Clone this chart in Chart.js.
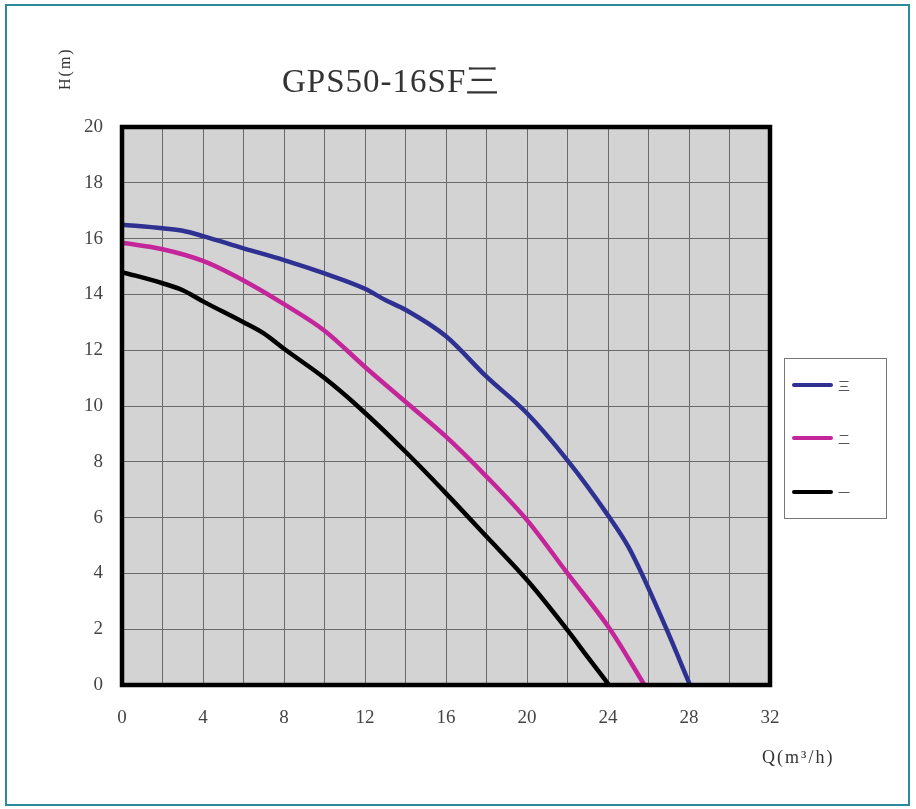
<!DOCTYPE html>
<html>
<head>
<meta charset="utf-8">
<script src="https://cdn.jsdelivr.net/npm/chart.js@4/dist/chart.umd.min.js"></script>
<style>
  html, body { margin: 0; padding: 0; background: #fff; }
  #wrap { width: 916px; height: 809px; }
</style>
</head>
<body>
<div id="wrap"><canvas id="pump_chart" width="916" height="809"></canvas></div>
<script>
// curve data: Q (m3/h), H (m)
const chartTitle = 'GPS50-16SF三';
const seriesNames = ['三', '二', '一'];
const seriesColors = ['#2e3192', '#c4259a', '#000000'];

const q3 = [0, 2, 3, 4, 6, 8, 10, 12, 13, 14, 16, 18, 20, 22, 24, 25, 25.66, 26.89, 28.05];
const h3 = [16.5, 16.37, 16.28, 16.09, 15.65, 15.23, 14.75, 14.2, 13.8, 13.45, 12.5, 11.05, 9.74, 8.05, 6.08, 4.96, 4.0, 2.0, 0];

const q2 = [0, 2, 4, 6, 8, 10, 12, 14, 16, 18, 20, 22, 24.1, 25.8];
const h2 = [15.85, 15.62, 15.2, 14.5, 13.65, 12.7, 11.4, 10.15, 8.9, 7.47, 5.91, 4.0, 2.0, 0];

const q1 = [0, 2, 3, 4, 6, 7, 8, 10, 11.75, 14, 16, 18, 20, 21.96, 23, 24.05];
const h1 = [14.8, 14.4, 14.15, 13.75, 13.0, 12.6, 12.05, 11.0, 9.92, 8.36, 6.87, 5.32, 3.76, 2.0, 1.0, 0];

const xMax = 32;
const yMax = 20;

const toPoints = (qs, hs) => qs.map((q, i) => ({x: q, y: hs[i]}));

const framePlugin = {
  id: 'frame',
  beforeDraw(chart) {
    const ctx = chart.ctx;
    const a = chart.chartArea;
    ctx.save();
    ctx.fillStyle = '#d3d3d3';
    ctx.fillRect(a.left, a.top, a.right - a.left, a.bottom - a.top);
    // teal outer frame
    ctx.strokeStyle = '#2b8a9b';
    ctx.lineWidth = 2;
    ctx.strokeRect(6, 5, 903, 800);
    ctx.restore();
  },
  afterDatasetsDraw(chart) {
    const ctx = chart.ctx;
    const a = chart.chartArea;
    ctx.save();
    ctx.strokeStyle = '#000';
    ctx.lineWidth = 4.5;
    ctx.strokeRect(a.left, a.top, a.right - a.left, a.bottom - a.top);

    // title
    ctx.fillStyle = '#333';
    ctx.font = '33px "Liberation Serif", serif';
    ctx.letterSpacing = '1px';
    ctx.textAlign = 'left';
    ctx.textBaseline = 'middle';
    ctx.fillText(chartTitle, 282, 83);

    // axis titles
    ctx.font = '18px "Liberation Serif", serif';
    ctx.letterSpacing = '2px';
    ctx.fillText('Q(m³/h)', 762, 758);
    ctx.font = '16px "Liberation Serif", serif';
    ctx.letterSpacing = '2px';
    ctx.save();
    ctx.translate(66, 90);
    ctx.rotate(-Math.PI / 2);
    ctx.fillText('H(m)', 0, 0);
    ctx.restore();
    ctx.letterSpacing = '0px';

    // legend box
    ctx.fillStyle = '#fff';
    ctx.fillRect(784, 358, 102, 160);
    ctx.strokeStyle = '#777';
    ctx.lineWidth = 1;
    ctx.strokeRect(784.5, 358.5, 102, 160);
    const rows = [385, 438, 492];
    chart.data.datasets.forEach((ds, i) => {
      ctx.strokeStyle = ds.borderColor;
      ctx.lineWidth = 4;
      ctx.lineCap = 'round';
      ctx.beginPath();
      ctx.moveTo(794, rows[i]);
      ctx.lineTo(831, rows[i]);
      ctx.stroke();
      ctx.fillStyle = '#555';
      ctx.font = '12px "Noto Sans CJK SC", sans-serif';
      ctx.textAlign = 'left';
      ctx.fillText(ds.label, 838, rows[i] + 1);
    });
    ctx.restore();
  }
};

const createPumpChart = () => {
  const ctx = document.getElementById('pump_chart').getContext('2d');
  const datasets = [toPoints(q3, h3), toPoints(q2, h2), toPoints(q1, h1)].map((pts, i) => ({
    label: seriesNames[i],
    data: pts,
    borderColor: seriesColors[i],
    borderWidth: 4.5,
    pointRadius: 0,
    cubicInterpolationMode: 'monotone',
    fill: false
  }));
  new Chart(ctx, {
    type: 'line',
    data: {datasets: datasets},
    options: {
      responsive: false,
      animation: false,
      layout: {padding: {left: 0, top: 127, right: 146, bottom: 0}},
      plugins: {legend: {display: false}, tooltip: {enabled: false}, title: {display: false}},
      scales: {
        x: {
          type: 'linear',
          min: 0, max: xMax,
          afterFit: (s) => { s.height = 124; },
          grid: {color: '#6a6a6a', lineWidth: 1, drawTicks: false},
          border: {display: false},
          ticks: {
            stepSize: 2,
            autoSkip: false,
            maxRotation: 0,
            padding: 22,
            color: '#444',
            font: {family: '"Liberation Serif", serif', size: 19},
            callback: (v) => (v % 4 === 0 ? String(v) : '')
          }
        },
        y: {
          type: 'linear',
          min: 0, max: yMax,
          afterFit: (s) => { s.width = 122; },
          grid: {color: '#6a6a6a', lineWidth: 1, drawTicks: false},
          border: {display: false},
          ticks: {
            stepSize: 2,
            padding: 19,
            color: '#444',
            font: {family: '"Liberation Serif", serif', size: 19}
          }
        }
      }
    },
    plugins: [framePlugin]
  });
};

document.addEventListener('DOMContentLoaded', () => {
  createPumpChart();
});
</script>
</body>
</html>
